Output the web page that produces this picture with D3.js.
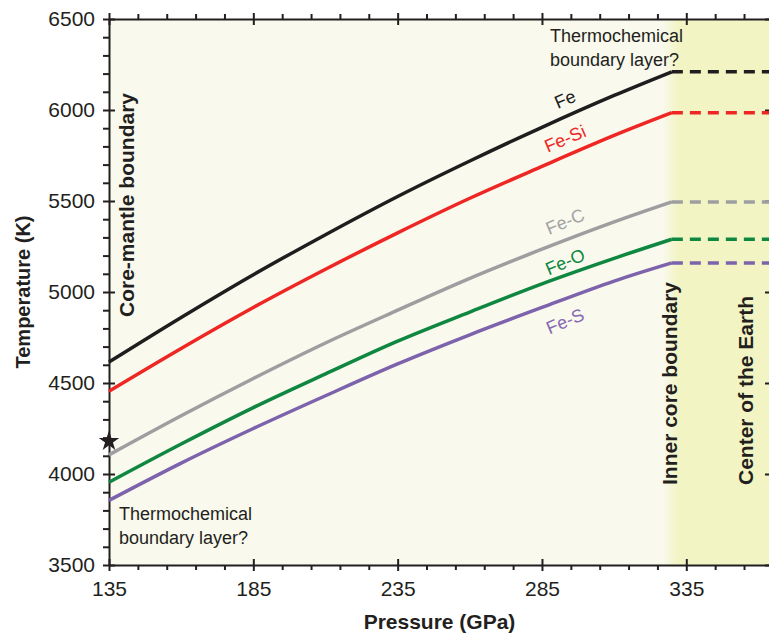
<!DOCTYPE html>
<html>
<head>
<meta charset="utf-8">
<script src="https://cdn.jsdelivr.net/npm/d3@7"></script>
<style>
  body { margin: 0; background: #fff; }
  svg { display: block; font-family: "Liberation Sans", Arial, sans-serif; }
  .axis path, .axis line { stroke: #231f20; stroke-width: 2; }
  .axis text { fill: #231f20; font-size: 21px; }
</style>
</head>
<body>
<svg class="js-chart" width="769" height="635"></svg>
<script>
"use strict";

//data

const pressure = [135, 160, 185, 210, 235, 260, 285, 310, 330];

const tempFe = [4615, 4860, 5095, 5315, 5525, 5720, 5905, 6080, 6210];
const tempFeSi = [4455, 4690, 4915, 5125, 5325, 5515, 5690, 5860, 5985];
const tempFeC = [4105, 4320, 4525, 4720, 4900, 5075, 5235, 5385, 5495];
const tempFeO = [3955, 4165, 4365, 4550, 4730, 4890, 5045, 5185, 5290];
const tempFeS = [3855, 4060, 4250, 4430, 4605, 4765, 4915, 5060, 5160];

const seriesNames = ["Fe", "Fe-Si", "Fe-C", "Fe-O", "Fe-S"];
const seriesTemps = [tempFe, tempFeSi, tempFeC, tempFeO, tempFeS];

const icbPressure = 330;
const centerPressure = 364;
const cmbStarTemp = 4180;

const xTickValues = [135, 185, 235, 285, 335];
const yTickValues = [3500, 4000, 4500, 5000, 5500, 6000, 6500];

//style

const colors = ["#1f1d1e", "#ee2624", "#9e9ea0", "#0f8741", "#7d62ac"];
const labelColors = ["#1f1d1e", "#ee2624", "#a3a3a5", "#0f8741", "#8769b3"];
const labelShift = [-18, -18, -19, -14, 22];
const labelPressure = 293;
const ink = "#231f20";

//scale

const svg = d3.select(".js-chart");

const x = d3.scaleLinear().domain([135, centerPressure]).range([109, 770]);
const y = d3.scaleLinear().domain([3500, 6500]).range([565, 19]);

const xMinor = d3.range(145, centerPressure, 10).filter((v) => !xTickValues.includes(v));
const yMinor = d3.range(3600, 6500, 100).filter((v) => !yTickValues.includes(v));

const fmt = d3.format("d");

//background

const defs = svg.append("defs");

const grad = defs.append("linearGradient")
  .attr("id", "bg-grad")
  .attr("gradientUnits", "userSpaceOnUse")
  .attr("x1", x(icbPressure) - 9)
  .attr("x2", x(icbPressure) + 6)
  .attr("y1", 0)
  .attr("y2", 0);

grad.append("stop").attr("offset", 0).attr("stop-color", "#f9f9ed");
grad.append("stop").attr("offset", 1).attr("stop-color", "#f2f4c4");

svg.append("rect")
  .attr("x", x(135))
  .attr("y", y(6500))
  .attr("width", x(centerPressure) - x(135))
  .attr("height", y(3500) - y(6500))
  .attr("fill", "url(#bg-grad)");

//axes

const addAxis = (axis, transform) => svg.append("g")
  .attr("class", "axis")
  .attr("transform", transform)
  .call(axis);

const noLabel = () => "";

//bottom
addAxis(d3.axisBottom(x).tickValues(xMinor).tickSize(5).tickFormat(noLabel), `translate(0,${y(3500)})`)
  .select(".domain").remove();
addAxis(d3.axisTop(x).tickValues(xTickValues).tickSize(6).tickFormat(noLabel), `translate(0,${y(3500)})`)
  .select(".domain").remove();
addAxis(d3.axisBottom(x).tickValues(xTickValues).tickSizeInner(6).tickSizeOuter(0).tickPadding(10).tickFormat(fmt), `translate(0,${y(3500)})`);

//top
addAxis(d3.axisTop(x).tickValues(xMinor).tickSize(5).tickFormat(noLabel), `translate(0,${y(6500)})`)
  .select(".domain").remove();
addAxis(d3.axisBottom(x).tickValues(xTickValues).tickSize(6).tickFormat(noLabel), `translate(0,${y(6500)})`)
  .select(".domain").remove();
addAxis(d3.axisTop(x).tickValues(xTickValues).tickSizeInner(6).tickSizeOuter(0).tickFormat(noLabel), `translate(0,${y(6500)})`);

//left
addAxis(d3.axisLeft(y).tickValues(yMinor).tickSize(6).tickFormat(noLabel), `translate(${x(135)},0)`)
  .select(".domain").remove();
addAxis(d3.axisRight(y).tickValues(yTickValues).tickSize(6).tickFormat(noLabel), `translate(${x(135)},0)`)
  .select(".domain").remove();
addAxis(d3.axisLeft(y).tickValues(yTickValues).tickSizeInner(6).tickSizeOuter(0).tickPadding(8).tickFormat(fmt), `translate(${x(135)},0)`);

//right
addAxis(d3.axisLeft(y).tickValues(yTickValues).tickSizeInner(5).tickSizeOuter(0).tickFormat(noLabel), `translate(${x(centerPressure)},0)`);

//axis titles

svg.append("text")
  .attr("x", (x(135) + x(centerPressure)) / 2)
  .attr("y", 629)
  .attr("text-anchor", "middle")
  .attr("font-size", 21)
  .attr("font-weight", "bold")
  .attr("fill", ink)
  .text("Pressure (GPa)");

svg.append("text")
  .attr("transform", `translate(30,${(y(3500) + y(6500)) / 2}) rotate(-90)`)
  .attr("text-anchor", "middle")
  .attr("font-size", 20)
  .attr("font-weight", "bold")
  .attr("fill", ink)
  .text("Temperature (K)");

//curves

const lineFn = d3.line()
  .x((d) => x(d[0]))
  .y((d) => y(d[1]))
  .curve(d3.curveCatmullRom.alpha(0.5));

seriesTemps.forEach((temps, i) => {

  const pts = pressure.map((p, j) => [p, temps[j]]);
  const last = temps[temps.length - 1];

  svg.append("path")
    .attr("d", lineFn(pts))
    .attr("fill", "none")
    .attr("stroke", colors[i])
    .attr("stroke-width", 3.5);

  svg.append("line")
    .attr("x1", x(icbPressure))
    .attr("x2", x(centerPressure))
    .attr("y1", y(last))
    .attr("y2", y(last))
    .attr("stroke", colors[i])
    .attr("stroke-width", 3.5)
    .attr("stroke-dasharray", "11 7");

  //label

  const along = d3.scaleLinear().domain(pressure).range(temps);
  const lx = x(labelPressure);
  const ly = y(along(labelPressure)) + labelShift[i];

  svg.append("text")
    .attr("transform", `translate(${lx},${ly}) rotate(-23)`)
    .attr("text-anchor", "middle")
    .attr("dy", "0.35em")
    .attr("font-size", 18)
    .attr("fill", labelColors[i])
    .text(seriesNames[i]);

});

//star

svg.append("path")
  .attr("d", d3.symbol(d3.symbolStar, 130)())
  .attr("transform", `translate(${x(135)},${y(cmbStarTemp)})`)
  .attr("fill", ink);

//annotations

const vertical = (txt, px, py, anchor) => {

  svg.append("text")
    .attr("transform", `translate(${px},${py}) rotate(-90)`)
    .attr("text-anchor", anchor)
    .attr("font-size", 21)
    .attr("font-weight", "bold")
    .attr("fill", ink)
    .text(txt);

};

vertical("Core-mantle boundary", x(135) + 25, 205, "middle");
vertical("Inner core boundary", x(icbPressure) + 5, 485, "start");
vertical("Center of the Earth", x(centerPressure) - 17, 485, "start");

const twoLines = (px, py) => {

  const t = svg.append("text")
    .attr("font-size", 18)
    .attr("fill", ink);

  t.append("tspan").attr("x", px).attr("y", py).text("Thermochemical");
  t.append("tspan").attr("x", px).attr("y", py + 23.5).text("boundary layer?");

};

twoLines(550, 42);
twoLines(119, 520);
</script>
</body>
</html>
